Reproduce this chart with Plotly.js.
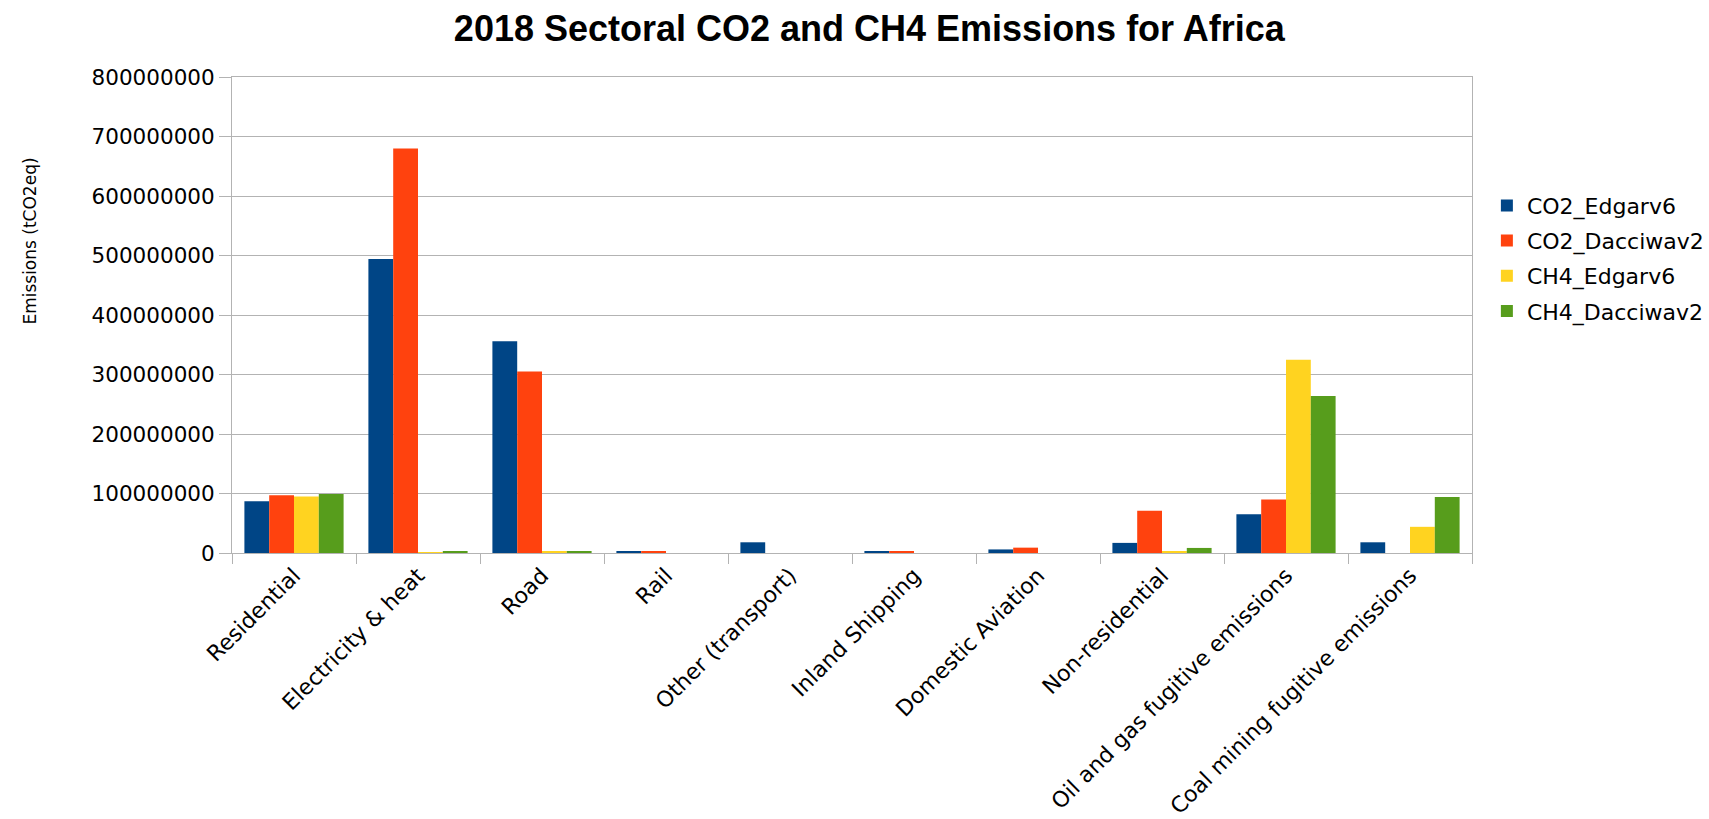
<!DOCTYPE html>
<html>
<head>
<meta charset="utf-8">
<script src="https://cdn.plot.ly/plotly-3.0.1.min.js"></script>
<style>html,body{margin:0;padding:0;background:#fff;}#chart{width:1709px;height:819px;}</style>
</head>
<body>
<div id="chart"></div>
<script>
const categories = ["Residential", "Electricity & heat", "Road", "Rail", "Other (transport)", "Inland Shipping", "Domestic Aviation", "Non-residential", "Oil and gas fugitive emissions", "Coal mining fugitive emissions"];
const co2Edgar = [87000000, 494000000, 356000000, 2000000, 18000000, 3000000, 6000000, 17000000, 65000000, 18000000];
const co2Dacciwa = [97000000, 680000000, 305000000, 2000000, 0, 3000000, 9000000, 71000000, 90000000, 0];
const ch4Edgar = [95000000, 500000, 2000000, 0, 0, 0, 0, 3000000, 325000000, 44000000];
const ch4Dacciwa = [99000000, 2000000, 3000000, 0, 0, 0, 0, 8500000, 264000000, 94000000];
const seriesNames = ["CO2_Edgarv6", "CO2_Dacciwav2", "CH4_Edgarv6", "CH4_Dacciwav2"];
const colors = ["#004586", "#ff420e", "#ffd320", "#579d1c"];
const series = [co2Edgar, co2Dacciwa, ch4Edgar, ch4Dacciwa];

const traces = series.map((vals, i) => ({
  type: "bar",
  name: seriesNames[i],
  legendgroup: "g" + i,
  x: categories,
  y: vals,
  marker: {color: colors[i], line: {width: 0}},
  hoverinfo: "x+y+name"
}));

const titleFont = "'Liberation Sans', Arial, sans-serif";
const font = "'DejaVu Sans', sans-serif";
const layout = {
  width: 1709, height: 819,
  paper_bgcolor: "#fff", plot_bgcolor: "#fff",
  margin: {l: 232, r: 237, t: 77, b: 266, pad: 0, autoexpand: false},
  font: {family: font, color: "#000"},
  title: {text: "<b>2018 Sectoral CO2 and CH4 Emissions for Africa</b>", font: {family: titleFont, size: 36, color: "#000"},
          x: 0.514, xanchor: "center", xref: "paper", y: 1 - 28/819, yanchor: "middle", yref: "container"},
  barmode: "group",
  bargap: 0.2,
  bargroupgap: 0,
  showlegend: true,
  legend: {x: 1.012, xanchor: "left", y: 0.774, yanchor: "top", font: {family: font, size: 22, color: "#000"},
           tracegroupgap: 3.6, itemwidth: 30, bgcolor: "rgba(0,0,0,0)"},
  xaxis: {
    type: "category",
    tickangle: -45,
    tickson: "boundaries",
    ticks: "outside", ticklen: 10, tickcolor: "#b3b3b3", tickwidth: 1,
    showline: true, linecolor: "#b3b3b3", linewidth: 1, mirror: true,
    showgrid: false,
    tickfont: {family: font, size: 22, color: "#000"},
    automargin: false
  },
  yaxis: {
    range: [0, 800000000],
    dtick: 100000000,
    tickformat: "d",
    ticks: "outside", ticklen: 12, tickcolor: "#b3b3b3", tickwidth: 1,
    showline: true, linecolor: "#b3b3b3", linewidth: 1, mirror: true,
    showgrid: true, gridcolor: "#b3b3b3", gridwidth: 1,
    zeroline: false,
    tickfont: {family: font, size: 21.5, color: "#000"},
    automargin: false
  },
  annotations: [{
    text: "Emissions (tCO2eq)", textangle: -90,
    xref: "paper", yref: "paper",
    x: (30 - 232) / 1240, y: (553.3 - 241.5) / 476.6,
    xanchor: "center", yanchor: "middle", showarrow: false,
    font: {family: font, size: 17, color: "#000"}
  }]
};

Plotly.newPlot("chart", traces, layout, {displayModeBar: false, responsive: false});
</script>
</body>
</html>
